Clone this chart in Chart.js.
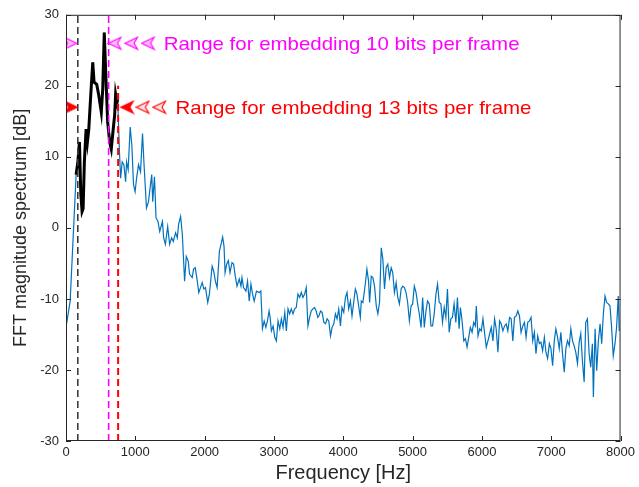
<!DOCTYPE html>
<html><head><meta charset="utf-8">
<script src="https://cdn.jsdelivr.net/npm/chart.js@4.4.1/dist/chart.umd.min.js"></script>
<style>html,body{margin:0;padding:0;background:#fff;overflow:hidden}canvas{display:block}</style>
</head><body>
<canvas id="c" width="639" height="487"></canvas>
<script>
// ---- data ----
const FREQ_HZ = [
0,60,146,171,194,214,232,247,265,290,
309,329,357,386,405,443,472,509,530,552,
573,601,630,653,677,702,716,735,745,771,
788,811,835,860,874,897,926,950,974,997,
1017,1046,1075,1104,1126,1161,1190,1213,1237,1251,
1276,1299,1327,1352,1391,1409,1434,1467,1495,1524,
1548,1581,1606,1624,1653,1678,1711,1735,1764,1782,
1821,1840,1864,1887,1916,1940,1965,1988,2012,2045,
2069,2108,2131,2155,2180,2213,2237,2260,2280,2295,
2318,2342,2366,2395,2418,2442,2467,2500,2524,2539,
2561,2596,2619,2643,2668,2691,2715,2748,2787,2811,
2834,2859,2883,2906,2930,2945,2963,2988,3012,3035,
3059,3084,3107,3131,3156,3179,3203,3227,3250,3275,
3299,3322,3346,3371,3394,3418,3443,3466,3490,3514,
3537,3562,3586,3609,3633,3648,3672,3695,3720,3744,
3767,3791,3816,3839,3863,3887,3910,3935,3959,3982,
4007,4031,4054,4078,4103,4126,4150,4174,4197,4222,
4246,4260,4283,4318,4341,4365,4380,4404,4427,4451,
4476,4499,4523,4548,4571,4595,4619,4642,4667,4691,
4714,4738,4763,4786,4810,4835,4858,4882,4906,4929,
4954,4978,5001,5025,5050,5073,5097,5122,5145,5169,
5193,5216,5241,5265,5288,5312,5337,5360,5384,5408,
5432,5456,5480,5503,5528,5552,5575,5599,5624,5647,
5671,5690,5714,5739,5762,5786,5810,5833,5858,5882,
5905,5919,5944,5968,5991,6015,6040,6063,6087,6112,
6135,6159,6183,6206,6231,6255,6278,6303,6327,6350,
6374,6399,6422,6446,6470,6494,6518,6542,6565,6590,
6614,6637,6661,6686,6709,6733,6757,6780,6805,6829,
6852,6876,6901,6924,6948,6973,6996,7020,7044,7067,
7092,7116,7139,7163,7188,7211,7235,7260,7283,7307,
7331,7354,7379,7403,7426,7450,7475,7498,7522,7547,
7570,7594,7608,7633,7656,7680,7705,7728,7752,7776,
7799,7824,7848,7871,7895,7920,7943,7967,7981
];
const MAG_DB = [
-14.0,-10.3,7.5,9.3,12.1,4.7,2.3,2.7,9.3,13.9,
12.1,13.9,18.7,23.3,20.5,20.2,18.7,16.3,19.5,27.5,
21.9,14.9,12.1,11.1,13.5,15.9,18.8,17.7,18.1,10.7,
7.0,9.3,8.9,6.5,9.3,8.2,14.2,11.6,6.1,5.1,
6.9,8.9,7.9,13.3,8.9,2.8,3.7,5.6,7.5,3.7,
7.2,1.4,0.9,-0.5,0.9,-1.4,-2.3,0.2,-2.3,-1.4,
-1.9,-0.7,-1.4,0.5,1.6,-0.9,-7.5,-4.0,-4.7,-6.5,
-7.0,-5.8,-5.6,-7.0,-9.1,-8.4,-7.7,-8.6,-8.4,-10.5,
-9.3,-5.4,-6.1,-7.5,-8.4,-3.3,-2.3,-1.3,-2.6,-6.3,
-5.1,-4.6,-6.3,-4.9,-5.1,-6.8,-8.2,-7.2,-8.2,-7.0,
-8.4,-8.9,-7.5,-10.3,-7.9,-9.3,-10.3,-8.9,-9.1,-8.9,
-14.2,-13.1,-14.0,-13.1,-11.7,-12.6,-14.5,-13.8,-15.4,-15.9,
-13.1,-14.2,-12.8,-14.0,-11.9,-14.5,-11.4,-12.1,-11.4,-12.1,
-11.4,-11.2,-9.3,-9.8,-9.1,-9.8,-9.3,-8.4,-13.8,-12.6,
-11.7,-11.4,-11.2,-11.7,-12.6,-12.4,-11.7,-11.9,-13.3,-13.5,
-12.8,-13.1,-15.2,-14.0,-13.5,-12.1,-12.8,-11.4,-13.8,-11.2,
-11.9,-9.8,-9.1,-11.4,-10.3,-12.4,-10.5,-8.6,-9.3,-11.0,
-12.6,-10.3,-10.5,-7.9,-5.8,-7.5,-10.5,-6.8,-7.0,-8.2,
-11.0,-12.1,-10.5,-2.8,-4.4,-8.6,-5.6,-5.1,-7.0,-5.6,
-6.3,-9.1,-7.7,-9.8,-10.7,-8.6,-8.2,-8.4,-9.1,-10.5,
-13.1,-11.0,-10.7,-8.2,-9.1,-10.7,-12.1,-14.0,-9.8,-14.0,
-11.7,-10.3,-10.7,-13.8,-13.8,-12.1,-9.3,-7.9,-10.5,-10.7,
-13.3,-11.2,-12.6,-8.6,-14.7,-12.8,-12.6,-10.7,-13.3,-9.8,
-14.2,-11.2,-13.1,-15.9,-15.6,-16.8,-15.4,-14.0,-14.7,-13.3,
-13.8,-11.0,-15.2,-14.2,-14.5,-12.8,-14.9,-16.8,-15.9,-14.9,
-14.0,-15.9,-12.8,-14.2,-17.5,-13.1,-13.5,-14.5,-13.8,-13.5,
-14.5,-12.6,-12.8,-15.9,-12.6,-12.4,-11.7,-12.4,-14.7,-13.8,
-13.3,-15.4,-13.3,-13.1,-12.6,-15.9,-14.7,-17.7,-15.2,-16.3,
-16.1,-17.3,-15.4,-17.5,-18.4,-16.3,-17.0,-19.4,-15.9,-14.2,
-15.4,-17.0,-14.7,-17.7,-20.3,-17.0,-15.9,-16.6,-14.2,-15.9,
-16.6,-17.5,-19.1,-16.1,-14.9,-18.7,-21.7,-13.3,-12.8,-17.7,
-19.6,-16.3,-23.8,-14.2,-20.1,-15.9,-13.5,-16.3,-12.1,-9.6,
-10.5,-10.7,-11.0,-14.0,-18.0,-16.3,-14.0,-9.6,-14.5
];
const X_TICKS = [0,1000,2000,3000,4000,5000,6000,7000,8000];
const Y_TICKS = [-30,-20,-10,0,10,20,30];
const HIGHLIGHT_RANGE_HZ = [146, 745];      // thick black segment
const LINE_BLACK_HZ = 170;                   // dashed markers
const LINE_MAGENTA_HZ = 615;
const LINE_RED_HZ = 752;
const LINE_RED_TOP_DB = 20;
const MAG_ARROW_HZ = [60, 706, 945, 1184];
const MAG_ARROW_DB = 26;
const RED_ARROW_HZ = [70, 884, 1109, 1349];
const RED_ARROW_DB = 17;
const NOTE_TEXTS = ['Range for embedding 10 bits per frame', 'Range for embedding 13 bits per frame'];
const NOTE_HZ = [1409, 1581];
const NOTE_DB = [26, 17];

// ---- build ----
const FONT = "'Liberation Sans', Arial, Helvetica, sans-serif";
const AX = '#262626';
const n = Math.min(FREQ_HZ.length, MAG_DB.length);
const spectrum = [];
for (let i = 0; i < n; i++) spectrum.push({x: FREQ_HZ[i], y: MAG_DB[i]});
const highlight = spectrum.filter(p => p.x >= HIGHLIGHT_RANGE_HZ[0] && p.x <= HIGHLIGHT_RANGE_HZ[1]);

function arrowCanvas(color, dir, alpha) {
  const w = 15, h = 15;
  const c = document.createElement('canvas'); c.width = w; c.height = h;
  const g = c.getContext('2d');
  g.translate(w / 2, h / 2); if (dir < 0) g.scale(-1, 1);
  g.beginPath(); g.moveTo(6.5, 0); g.lineTo(-6, -6); g.lineTo(-2.5, 0); g.lineTo(-6, 6); g.closePath();
  g.globalAlpha = alpha; g.fillStyle = color; g.fill();
  g.globalAlpha = 1; g.lineWidth = 1.1; g.strokeStyle = color; g.stroke();
  return c;
}
const magStyles = MAG_ARROW_HZ.map((f, i) => arrowCanvas('#FF00FF', i === 0 ? 1 : -1, 0.25));
const redStyles = RED_ARROW_HZ.map((f, i) => arrowCanvas('#FF0000', i === 0 ? 1 : -1, i <= 1 ? 1 : 0.1));

const frame = {
  id: 'frame',
  afterDatasetsDraw(chart) {
    const {ctx, chartArea: a, scales: {x, y}} = chart;
    ctx.save();
    ctx.strokeStyle = AX; ctx.lineWidth = 1;
    ctx.strokeRect(a.left + 0.5, a.top + 0.5, a.right - a.left - 1, a.bottom - a.top - 1);
    const L = 5;
    ctx.beginPath();
    X_TICKS.forEach(v => {
      const px = Math.round(x.getPixelForValue(v)) + 0.5;
      ctx.moveTo(px, a.bottom); ctx.lineTo(px, a.bottom - L);
      ctx.moveTo(px, a.top); ctx.lineTo(px, a.top + L);
    });
    Y_TICKS.forEach(v => {
      const py = Math.round(y.getPixelForValue(v)) + 0.5;
      ctx.moveTo(a.left, py); ctx.lineTo(a.left + L, py);
      ctx.moveTo(a.right, py); ctx.lineTo(a.right - L, py);
    });
    ctx.stroke();
    const cols = ['#FF00FF', '#FF0000'];
    ctx.font = '18.6px ' + FONT; ctx.textBaseline = 'alphabetic'; ctx.textAlign = 'left';
    NOTE_TEXTS.forEach((t, i) => {
      const px = x.getPixelForValue(NOTE_HZ[i]), py = y.getPixelForValue(NOTE_DB[i]);
      ctx.save(); ctx.translate(px, py + 6.6); ctx.scale(1.1, 1);
      ctx.fillStyle = cols[i]; ctx.fillText(t, 0, 0); ctx.restore();
    });
    ctx.restore();
  }
};

new Chart(document.getElementById('c'), {
  type: 'line',
  data: {
    datasets: [
      {data: MAG_ARROW_HZ.map(f => ({x: f, y: MAG_ARROW_DB})), showLine: false, pointStyle: magStyles, pointRadius: 7, order: 1},
      {data: RED_ARROW_HZ.map(f => ({x: f, y: RED_ARROW_DB})), showLine: false, pointStyle: redStyles, pointRadius: 7, order: 1},
      {data: [{x: LINE_BLACK_HZ, y: -30}, {x: LINE_BLACK_HZ, y: 30}], borderColor: '#3a3a3a', borderWidth: 1.6, borderDash: [7, 4], pointRadius: 0, order: 2},
      {data: [{x: LINE_MAGENTA_HZ, y: -30}, {x: LINE_MAGENTA_HZ, y: 30}], borderColor: '#FF00FF', borderWidth: 1.6, borderDash: [7, 4], pointRadius: 0, order: 2},
      {data: [{x: LINE_RED_HZ, y: -30}, {x: LINE_RED_HZ, y: LINE_RED_TOP_DB}], borderColor: '#FF0000', borderWidth: 2, borderDash: [7, 4], pointRadius: 0, order: 2},
      {data: highlight, borderColor: '#000000', borderWidth: 3, pointRadius: 0, tension: 0, order: 3},
      {data: spectrum, borderColor: '#0072BD', borderWidth: 1.2, pointRadius: 0, tension: 0, order: 4}
    ]
  },
  options: {
    responsive: false, animation: false, devicePixelRatio: 1,
    layout: {padding: {left: 0, top: 12, right: 16, bottom: 0}},
    plugins: {legend: {display: false}, tooltip: {enabled: false}},
    elements: {line: {fill: false}},
    scales: {
      x: {
        type: 'linear', min: 0, max: 8000,
        afterBuildTicks: s => { s.ticks = X_TICKS.map(v => ({value: v})); },
        afterFit: s => { s.height = 46; },
        grid: {display: false, drawTicks: false}, border: {display: false},
        ticks: {color: AX, font: {family: FONT, size: 13}, padding: 4, maxRotation: 0, autoSkip: false, callback: v => String(v)},
        title: {display: true, text: 'Frequency [Hz]', color: AX, font: {family: FONT, size: 20}, padding: {top: 0, bottom: 2}}
      },
      y: {
        type: 'linear', min: -30, max: 30,
        afterBuildTicks: s => { s.ticks = Y_TICKS.map(v => ({value: v})); },
        afterFit: s => { s.width = 66; },
        grid: {display: false, drawTicks: false}, border: {display: false},
        ticks: {color: AX, font: {family: FONT, size: 13}, padding: 7, autoSkip: false, callback: v => String(v)},
        title: {display: true, text: 'FFT magnitude spectrum [dB]', color: AX, font: {family: FONT, size: 18}, padding: {top: 10, bottom: 0}}
      }
    }
  },
  plugins: [frame]
});
</script>
</body></html>
